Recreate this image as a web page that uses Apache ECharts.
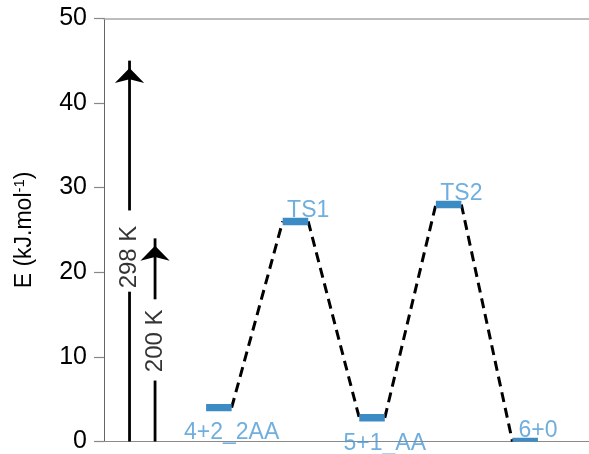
<!DOCTYPE html>
<html><head><meta charset="utf-8">
<script src="https://cdn.jsdelivr.net/npm/echarts@6/dist/echarts.min.js"></script>
<style>html,body{margin:0;padding:0;background:#fff}#c{width:589px;height:454px}</style>
</head><body><div id="c"></div>
<script>
// ---- data ----
const levelNames = ['4+2_2AA', 'TS1', '5+1_AA', 'TS2', '6+0'];
const levelEnergies = [4.0, 26.0, 2.8, 28.0, 0.0];
const levelStarts = [0, 3, 6, 9, 12];
const levelWidth = 1;
const labelSides = ['bottom', 'top', 'bottom', 'top', 'top'];
const yTicks = [0, 10, 20, 30, 40, 50];
const arrowLabels = ['298 K', '200 K'];
const arrowX = [-3, -2];
const arrowTops = [45, 24];
const arrowGapLow = [17.7, 7.2];
const arrowGapHigh = [27.3, 16.8];
const arrowLabelY = [21.8, 11.9];

// ---- build ----
const FONT = '"Liberation Sans", Arial, Helvetica, sans-serif';
const BAR = '#3d8bc4';
const TXT = '#4b9ad5';
const series = [];

// dashed connectors
for (let i = 0; i < levelNames.length - 1; i++) {
  series.push({
    type: 'line', silent: true, showSymbol: false, z: 2,
    data: [[levelStarts[i] + levelWidth, levelEnergies[i]], [levelStarts[i + 1], levelEnergies[i + 1]]],
    lineStyle: { color: '#000', width: 3, type: [10, 6] }
  });
}
// level bars
series.push({
  type: 'custom', clip: true, z: 3, silent: true,
  data: levelNames.map((n, i) => [levelStarts[i], levelStarts[i] + levelWidth, levelEnergies[i]]),
  renderItem: function (params, api) {
    const p0 = api.coord([api.value(0), api.value(2)]);
    const p1 = api.coord([api.value(1), api.value(2)]);
    return { type: 'rect', shape: { x: p0[0], y: p0[1] - 3.7, width: p1[0] - p0[0], height: 7.4 }, style: { fill: BAR } };
  }
});
// level labels
series.push({
  type: 'scatter', symbolSize: 0, z: 4, silent: true,
  data: levelNames.map((n, i) => ({
    value: [levelStarts[i] + levelWidth, levelEnergies[i]],
    label: { position: labelSides[i], distance: labelSides[i] === 'top' ? -1 : 14 }
  })),
  label: {
    show: true, color: TXT, fontSize: 23, fontFamily: FONT,
    formatter: p => levelNames[p.dataIndex]
  }
});
// arrows
arrowLabels.forEach((t, i) => {
  series.push({
    type: 'line', silent: true, z: 2, showSymbol: false,
    data: [[arrowX[i], 0], [arrowX[i], arrowGapLow[i]]],
    lineStyle: { color: '#000', width: 2.8 }
  });
  series.push({
    type: 'line', silent: true, z: 2, showSymbol: true,
    data: [
      { value: [arrowX[i], arrowGapHigh[i]], symbol: 'none' },
      { value: [arrowX[i], arrowTops[i]], symbol: 'arrow', symbolSize: [22, 15], symbolOffset: [0, 7.5] }
    ],
    itemStyle: { color: '#000' },
    lineStyle: { color: '#000', width: 2.8 }
  });
  series.push({
    type: 'scatter', symbolSize: 0, z: 5, silent: true,
    data: [[arrowX[i], arrowLabelY[i]]],
    label: {
      show: true, position: 'inside', rotate: 90, formatter: t,
      color: '#000', fontSize: 24, fontFamily: FONT
    }
  });
});

const option = {
  animation: false,
  backgroundColor: '#fff',
  grid: { left: 104, right: 0, top: 18.3, bottom: 6.5, containLabel: false },
  xAxis: [
    { type: 'value', min: -4, max: 15, position: 'bottom',
      axisLine: { show: true, lineStyle: { color: '#8a8a8a', width: 1.2 } },
      axisTick: { show: false }, axisLabel: { show: false }, splitLine: { show: false } },
    { type: 'value', min: -4, max: 15, position: 'top',
      axisLine: { show: true, onZero: false, lineStyle: { color: '#a8a8a8', width: 1.5 } },
      axisTick: { show: false }, axisLabel: { show: false }, splitLine: { show: false } }
  ],
  yAxis: {
    type: 'value', min: yTicks[0], max: yTicks[yTicks.length - 1], interval: 10,
    name: '{n|E (kJ.mol}{s|-1}{n|)}', nameLocation: 'middle', nameRotate: 90, nameGap: 67,
    nameTextStyle: {
      rich: {
        n: { fontSize: 23, fontFamily: FONT, color: '#000' },
        s: { fontSize: 15, fontFamily: FONT, color: '#000', verticalAlign: 'top', padding: [0, 0, 10, 0] }
      }
    },
    axisLine: { show: true, onZero: false, lineStyle: { color: '#666', width: 1 } },
    axisTick: { show: true, inside: false, length: 10, lineStyle: { color: '#888', width: 1.2 } },
    axisLabel: { fontSize: 25, fontFamily: FONT, color: '#000', margin: 17,
      formatter: v => yTicks.includes(v) ? String(v) : '' },
    splitLine: { show: false }
  },
  series: series
};
const chart = echarts.init(document.getElementById('c'), null, { renderer: 'canvas' });
chart.setOption(option);
</script></body></html>
